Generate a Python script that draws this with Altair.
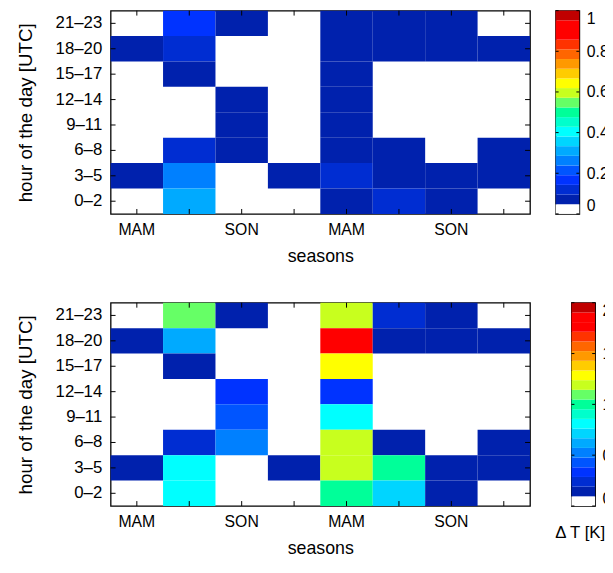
import json
import altair as alt
import pandas as pd

# ---------------- data ----------------
seasons = ["MAM", "JJA", "SON", "DJF", "MAM", "JJA", "SON", "DJF"]
season_tick_labels = ["MAM", "", "SON", "", "MAM", "", "SON", ""]
hours_bottom_to_top = ["0–2", "3–5", "6–8", "9–11", "12–14", "15–17", "18–20", "21–23"]
hours_top_to_bottom = hours_bottom_to_top[::-1]

N = None
# rows: 21–23 (top) ... 0–2 (bottom); columns: MAM JJA SON DJF MAM JJA SON DJF
freq_values = [
    [N, 0.17, 0.07, N, 0.07, 0.07, 0.07, N],
    [0.07, 0.12, N, N, 0.07, 0.07, 0.07, 0.07],
    [N, 0.07, N, N, 0.07, N, N, N],
    [N, N, 0.07, N, 0.07, N, N, N],
    [N, N, 0.07, N, 0.07, N, N, N],
    [N, 0.12, 0.07, N, 0.07, 0.07, N, 0.07],
    [0.07, 0.26, N, 0.07, 0.12, 0.07, 0.07, 0.07],
    [N, 0.31, N, N, 0.07, 0.12, 0.07, N],
]
dT_values = [
    [N, 1.10, 0.14, N, 1.19, 0.23, 0.14, N],
    [0.14, 0.62, N, N, 1.76, 0.14, 0.14, 0.14],
    [N, 0.14, N, N, 1.29, N, N, N],
    [N, N, 0.33, N, 0.33, N, N, N],
    [N, N, 0.43, N, 0.81, N, N, N],
    [N, 0.23, 0.52, N, 1.19, 0.14, N, 0.14],
    [0.14, 0.81, N, 0.14, 1.19, 1.00, 0.14, 0.14],
    [N, 0.81, N, N, 1.00, 0.71, 0.14, N],
]
freq_max = 1.0
dT_max = 2.0
freq_ticks = [0, 0.2, 0.4, 0.6, 0.8, 1]
dT_ticks = [0, 0.5, 1, 1.5, 2]

# discrete jet-like colormap with white first level (21 levels)
colors = ["#FFFFFF", "#0021AD", "#002DD2", "#0033FF", "#0055FF", "#0080FF",
          "#00AAFF", "#00D5FF", "#00FFFF", "#00FFCC", "#00FF99", "#66FF66",
          "#C8FF1E", "#FFFF00", "#FFCC00", "#FF9900", "#FF6600", "#FF3300",
          "#FF0000", "#FF0000", "#C00000"]
NLEV = len(colors)

# ---------------- layout ----------------
W, H = 425, 206
CB_W = 24
TICK = 5
FONT = "Liberation Sans"


def panel(vals, vmax, cb_ticks, cb_title):
    recs = []
    for r, hr in enumerate(hours_top_to_bottom):
        for c in range(len(seasons)):
            v = vals[r][c]
            if v is not None:
                recs.append({"hour": hr, "col": c, "value": v})
    df = pd.DataFrame(recs)
    cols_df = pd.DataFrame({"col": list(range(len(seasons)))})
    rows_df = pd.DataFrame({"hour": hours_top_to_bottom})

    step = vmax / NLEV
    color_scale = alt.Scale(type="threshold",
                            domain=[round(step * k, 6) for k in range(1, NLEV)],
                            range=colors)

    xscale = alt.Scale(domain=list(range(len(seasons))), paddingInner=0, paddingOuter=0)
    yscale = alt.Scale(domain=hours_top_to_bottom, paddingInner=0, paddingOuter=0)

    xaxis = alt.Axis(labelExpr=f"{json.dumps(season_tick_labels)}[datum.value]",
                     labelAngle=0, ticks=False, domain=False, labelPadding=8,
                     labelFontSize=16, title="seasons", titlePadding=10,
                     titleFontSize=18)
    yaxis = alt.Axis(ticks=False, domain=False, labelPadding=9, labelFontSize=17,
                     title="hour of the day [UTC]", titlePadding=20, titleFontSize=19)

    rect = alt.Chart(df).mark_rect().encode(
        x=alt.X("col:O", scale=xscale, axis=xaxis),
        y=alt.Y("hour:O", scale=yscale, axis=yaxis),
        color=alt.Color("value:Q", scale=color_scale, legend=None),
    )
    tb = alt.Chart(cols_df).mark_rule(color="black", strokeWidth=1)
    ticks_bottom = tb.encode(x="col:O", y=alt.value(H), y2=alt.value(H - TICK))
    ticks_top = tb.encode(x="col:O", y=alt.value(0), y2=alt.value(TICK))
    lr = alt.Chart(rows_df).mark_rule(color="black", strokeWidth=1)
    ticks_left = lr.encode(y="hour:O", x=alt.value(0), x2=alt.value(TICK))
    ticks_right = lr.encode(y="hour:O", x=alt.value(W), x2=alt.value(W - TICK))

    heat = alt.layer(rect, ticks_bottom, ticks_top, ticks_left, ticks_right).properties(
        width=W, height=H)

    cb_df = pd.DataFrame({
        "lo": [k * step for k in range(NLEV)],
        "hi": [(k + 1) * step for k in range(NLEV)],
        "mid": [(k + 0.5) * step for k in range(NLEV)],
    })
    yq = alt.Scale(domain=[0, vmax], nice=False, zero=True)
    bar = alt.Chart(cb_df).mark_rect().encode(
        y=alt.Y("lo:Q", scale=yq,
                axis=alt.Axis(orient="right", values=cb_ticks, format="~g", ticks=False,
                              domain=False, grid=False, labelPadding=7, labelFontSize=16,
                              labelFlush=True, title=None)),
        y2="hi:Q",
        x=alt.value(0), x2=alt.value(CB_W),
        color=alt.Color("mid:Q", scale=color_scale, legend=None),
    )
    tk_df = pd.DataFrame({"t": cb_ticks})
    cbt = alt.Chart(tk_df).mark_rule(color="black", strokeWidth=1)
    cb_l = cbt.encode(y=alt.Y("t:Q", scale=yq), x=alt.value(0), x2=alt.value(3))
    cb_r = cbt.encode(y=alt.Y("t:Q", scale=yq), x=alt.value(CB_W), x2=alt.value(CB_W - 3))
    props = dict(width=CB_W, height=H)
    if cb_title:
        props["title"] = alt.TitleParams(cb_title, orient="bottom", anchor="start",
                                         dx=-16, fontSize=17, fontWeight="normal",
                                         offset=19, font=FONT, color="black")
    cbar = alt.layer(bar, cb_l, cb_r).properties(**props)
    return alt.hconcat(heat, cbar, spacing=22).resolve_scale(color="independent")


top = panel(freq_values, freq_max, freq_ticks, None)
bottom = panel(dT_values, dT_max, dT_ticks, "Δ T [K]")

chart = alt.vconcat(top, bottom, spacing=35).resolve_scale(color="independent").properties(
    padding={"left": 8, "top": -3, "right": -20, "bottom": -5}
).configure(font=FONT).configure_view(
    stroke="black", strokeWidth=1.3
).configure_axis(
    labelColor="black", titleColor="black", labelFont=FONT, titleFont=FONT,
    titleFontWeight="normal"
)

chart.save("out.html", embed_options={"renderer": "svg", "actions": False})
